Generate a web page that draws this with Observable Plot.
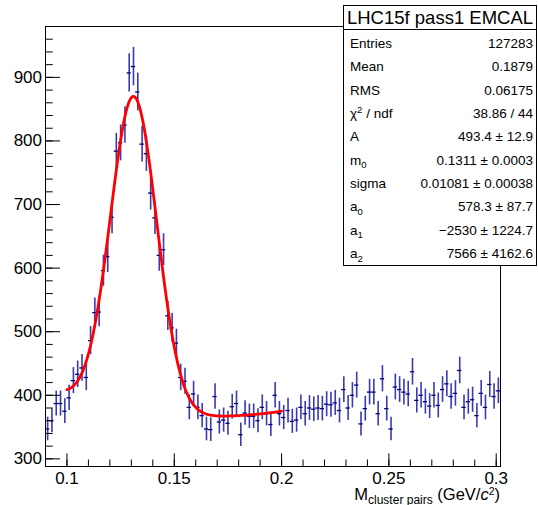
<!DOCTYPE html>
<html>
<head>
<meta charset="utf-8">
<script src="https://cdn.jsdelivr.net/npm/d3@7"></script>
<script src="https://cdn.jsdelivr.net/npm/@observablehq/plot@0.6"></script>
<style>
html, body { margin: 0; padding: 0; background: #fff; }
#chart { position: relative; width: 538px; height: 505px; }
</style>
</head>
<body>
<div id="chart"></div>
<script>
// ---- data ----
const binStart = 0.09;
const binWidth = 0.002;
const counts = [
  347, 360, 387, 387, 375, 396, 423, 433, 443, 428,
  486, 530, 531, 596, 618, 680, 784, 797, 825, 907,
  917, 877, 795, 780, 718, 679, 620, 629, 525, 506,
  482, 428, 422, 381, 402, 381, 368, 347, 346, 398,
  358, 361, 356, 382, 387, 338, 372, 367, 367, 360,
  381, 371, 354, 400, 371, 365, 376, 359, 361, 381,
  371, 380, 378, 380, 379, 386, 385, 388, 376, 409,
  380, 400, 416, 355, 379, 405, 405, 371, 426, 379,
  347, 413, 409, 405, 402, 437, 392, 400, 390, 383,
  400, 384, 409, 418, 398, 403, 439, 381, 390, 393,
  368, 403, 381, 417, 398, 407
];
const xDomain = [0.09, 0.302];
const yDomain = [288, 980];
const xTicksMajor = [0.1, 0.15, 0.2, 0.25, 0.3];
const xTickLabels = ["0.1", "0.15", "0.2", "0.25", "0.3"];
const xTicksMinor = [0.09, 0.1, 0.11, 0.12, 0.13, 0.14, 0.15, 0.16, 0.17, 0.18, 0.19, 0.2, 0.21, 0.22, 0.23, 0.24, 0.25, 0.26, 0.27, 0.28, 0.29, 0.3];
const yTicksMajor = [300, 400, 500, 600, 700, 800, 900];
const yTicksMinor = [300, 320, 340, 360, 380, 400, 420, 440, 460, 480, 500, 520, 540, 560, 580, 600, 620, 640, 660, 680, 700, 720, 740, 760, 780, 800, 820, 840, 860, 880, 900, 920, 940, 960];

// fit parameters (gaus + pol2), from the stats box
const fitA = 493.4, fitM0 = 0.1311, fitSigma = 0.01081;
const fitA0 = 578.3, fitA1 = -2530, fitA2 = 7566;
const fitRange = [0.1, 0.2];

const statsTitle = "LHC15f pass1 EMCAL";
const statLabels = [["Entries"], ["Mean"], ["RMS"], ["χ", "2", " / ndf", "sup"], ["A"], ["m", "0", "", "sub"], ["sigma"], ["a", "0", "", "sub"], ["a", "1", "", "sub"], ["a", "2", "", "sub"]];
const statValues = ["127283", "0.1879", "0.06175", "38.86 / 44", "493.4 ± 12.9", "0.1311 ± 0.0003", "0.01081 ± 0.00038", "578.3 ± 87.7", "−2530 ± 1224.7", "7566 ± 4162.6"];

// ---- build tables ----
const hist = counts.map((c, i) => {
  const lo = binStart + i * binWidth;
  return { x: lo + binWidth / 2, x1: lo, x2: lo + binWidth, y: c, e: Math.sqrt(c) };
});
const fitFn = x => fitA * Math.exp(-((x - fitM0) ** 2) / (2 * fitSigma * fitSigma)) + fitA0 + fitA1 * x + fitA2 * x * x;
const fitPts = d3.range(fitRange[0], fitRange[1] + 1e-9, 0.0005).map(x => ({ x, y: fitFn(x) }));

const W = 538, H = 505, mL = 45, mR = 38, mT = 26, mB = 39;
const innerW = W - mL - mR, innerH = H - mT - mB;
const font = "'Liberation Sans', Arial, Helvetica, sans-serif";

const plot = Plot.plot({
  width: W, height: H,
  marginLeft: mL, marginRight: mR, marginTop: mT, marginBottom: mB,
  style: { fontFamily: font, fontSize: "17px", color: "#000", background: "#fff", overflow: "visible" },
  x: { domain: xDomain, label: null },
  y: { domain: yDomain, label: null },
  marks: [
    Plot.ruleX(hist, { x: "x", y1: d => d.y - d.e, y2: d => d.y + d.e, stroke: "#3a3ab4", strokeWidth: 1.6 }),
    Plot.ruleY(hist, { y: "y", x1: "x1", x2: "x2", stroke: "#00007e", strokeWidth: 1.3 }),
    Plot.line(fitPts, { x: "x", y: "y", stroke: "#ff0000", strokeWidth: 2.8 }),
    Plot.tickX(xTicksMinor, { x: d => d, insetTop: innerH - 6.5, stroke: "#000", strokeWidth: 1 }),
    Plot.tickX(xTicksMajor, { x: d => d, insetTop: innerH - 12.7, stroke: "#000", strokeWidth: 1 }),
    Plot.tickY(yTicksMinor, { y: d => d, insetRight: innerW - 7.7, stroke: "#000", strokeWidth: 1 }),
    Plot.tickY(yTicksMajor, { y: d => d, insetRight: innerW - 15, stroke: "#000", strokeWidth: 1 }),
    Plot.axisX(xTicksMajor, { tickSize: 0, tickPadding: 5.5, fontSize: 17, tickFormat: d => xTickLabels[xTicksMajor.indexOf(d)] }),
    Plot.axisY(yTicksMajor, { tickSize: 0, tickPadding: 3.5, fontSize: 17 }),
    Plot.frame({ stroke: "#000", strokeWidth: 1 })
  ]
});
document.getElementById("chart").appendChild(plot);

// ---- overlay: axis title and stats box ----
const svg = d3.select(plot);
const xt = svg.append("text")
  .attr("x", 500).attr("y", 500).attr("text-anchor", "end")
  .attr("font-family", font).attr("font-size", 16.5).attr("fill", "#000");
xt.append("tspan").text("M");
xt.append("tspan").attr("dy", 3.5).attr("font-size", 12).text("cluster pairs");
xt.append("tspan").attr("dy", -3.5).text(" (GeV/");
xt.append("tspan").attr("font-style", "italic").text("c");
xt.append("tspan").attr("dy", -5).attr("font-size", 10.5).text("2");
xt.append("tspan").attr("dy", 5).text(")");

const box = svg.append("g").attr("font-family", font).attr("fill", "#000");
box.append("rect").attr("x", 343.5).attr("y", 5.5).attr("width", 193).attr("height", 260)
  .attr("fill", "#fff").attr("stroke", "#000").attr("stroke-width", 1);
box.append("line").attr("x1", 343.5).attr("x2", 536.5).attr("y1", 29.5).attr("y2", 29.5)
  .attr("stroke", "#000").attr("stroke-width", 1);
box.append("text").attr("x", 440).attr("y", 24).attr("text-anchor", "middle")
  .attr("font-size", 18.5).text(statsTitle);
statLabels.forEach((lab, i) => {
  const yb = 48 + i * 23.35;
  const t = box.append("text").attr("x", 350).attr("y", yb).attr("text-anchor", "start").attr("font-size", 13.5);
  t.append("tspan").text(lab[0]);
  if (lab.length > 1) {
    const up = lab[3] === "sup";
    t.append("tspan").attr("dy", up ? -5 : 3.5).attr("font-size", 9.5).text(lab[1]);
    t.append("tspan").attr("dy", up ? 5 : -3.5).text(lab[2] || "");
  }
  box.append("text").attr("x", 533).attr("y", yb).attr("text-anchor", "end")
    .attr("font-size", 13.5).text(statValues[i]);
});
</script>
</body>
</html>
